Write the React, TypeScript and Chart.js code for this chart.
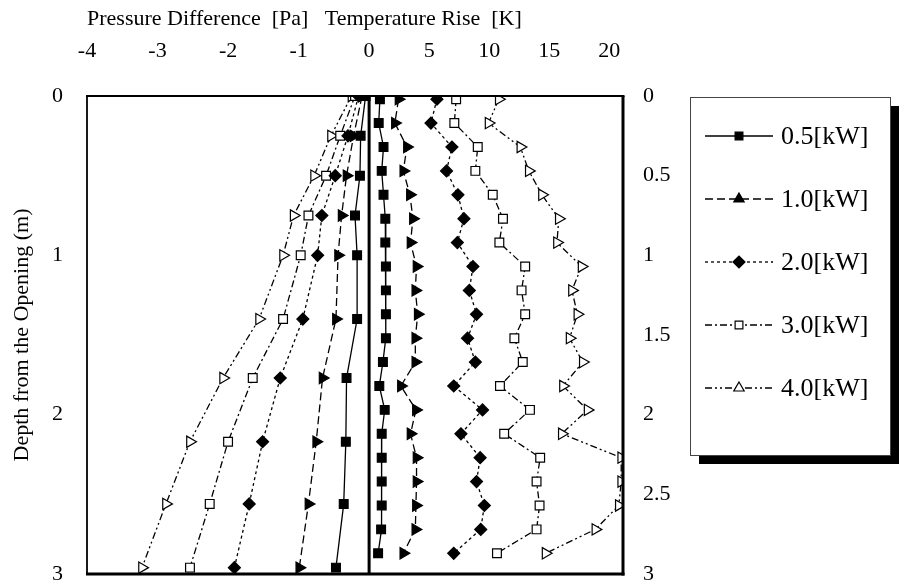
import React, { useEffect, useRef } from 'react';
import { Chart, registerables } from 'chart.js';
import { drawPoint } from 'chart.js/helpers';

Chart.register(...registerables);

// ---------- data ----------
const seriesLabels = ['0.5[kW]', '1.0[kW]', '2.0[kW]', '3.0[kW]', '4.0[kW]'];

// depths (m) of temperature measurements
const depthT = [0.02, 0.17, 0.32, 0.47, 0.62, 0.77, 0.92, 1.07, 1.22, 1.37, 1.52, 1.67, 1.82, 1.97, 2.12, 2.27, 2.42, 2.57, 2.72, 2.87];
// depths (m) of pressure measurements
const depthP = [0, 0.25, 0.5, 0.75, 1.0, 1.4, 1.77, 2.17, 2.56, 2.96];

// temperature rise [K]
const temp05 = [0.9, 0.8, 1.2, 1.05, 1.2, 1.35, 1.35, 1.4, 1.4, 1.4, 1.4, 1.15, 0.85, 1.3, 1.05, 1.05, 1.05, 1.05, 1.0, 0.75];
const temp10 = [2.45, 2.15, 3.15, 2.85, 3.4, 3.65, 3.45, 3.95, 3.85, 4.05, 3.85, 3.85, 2.65, 3.9, 3.45, 3.95, 3.95, 3.9, 3.85, 2.85];
const temp20 = [5.65, 5.15, 6.9, 6.45, 7.4, 7.9, 7.35, 8.65, 8.35, 8.95, 8.2, 8.85, 7.05, 9.45, 7.65, 9.25, 8.95, 9.6, 9.3, 7.05];
const temp30 = [7.25, 7.1, 9.05, 8.85, 10.3, 11.15, 10.85, 13.0, 12.7, 13.0, 12.1, 12.8, 10.9, 13.4, 11.25, 14.25, 13.95, 14.2, 13.95, 10.65];
const temp40 = [10.8, 9.95, 12.6, 13.3, 14.4, 15.8, 15.65, 17.7, 16.9, 17.35, 16.7, 17.8, 16.15, 18.2, 16.05, 21.0, 21.0, 20.8, 18.85, 14.7];

// pressure difference [Pa]
const pres05 = [-0.05, -0.12, -0.13, -0.2, -0.17, -0.17, -0.32, -0.33, -0.36, -0.47];
const pres10 = [-0.1, -0.22, -0.32, -0.39, -0.44, -0.47, -0.66, -0.75, -0.86, -0.99];
const pres20 = [-0.15, -0.3, -0.48, -0.67, -0.73, -0.94, -1.26, -1.51, -1.7, -1.91];
const pres30 = [-0.2, -0.41, -0.61, -0.86, -0.97, -1.22, -1.65, -2.0, -2.26, -2.54];
const pres40 = [-0.25, -0.54, -0.78, -1.07, -1.22, -1.56, -2.07, -2.54, -2.88, -3.22];

// tick labels
const pressureTicks = [-4, -3, -2, -1];
const tempTicks = [0, 5, 10, 15, 20];
const depthTicksLeft = [0, 1, 2, 3];
const depthTicksRight = [0, 0.5, 1, 1.5, 2, 2.5, 3];

// axis ranges (pressure and temperature share one zero line)
const P_MIN = -4;
const P_MAX = 3.6;
const K_PER_PA = 5.875; // temperature units per pressure unit on the shared width
const T_MIN = P_MIN * K_PER_PA;
const T_MAX = P_MAX * K_PER_PA;

const FONT = 'Liberation Serif';

// ---------- styles ----------
const styles = [
  { dash: [] as number[], point: 'rect', rot: 0, legendRot: 0, fill: '#000', radius: 6.2, legendRadius: 5.5 },
  { dash: [8, 4], point: 'triangle', rot: 90, legendRot: 0, fill: '#000', radius: 6.5, legendRadius: 6 },
  { dash: [3, 3], point: 'rectRot', rot: 0, legendRot: 0, fill: '#000', radius: 6, legendRadius: 6 },
  { dash: [7, 3, 2, 3], point: 'rect', rot: 0, legendRot: 0, fill: '#fff', radius: 6.2, legendRadius: 5.5 },
  { dash: [7, 3, 2, 3, 2, 3], point: 'triangle', rot: 90, legendRot: 0, fill: '#fff', radius: 6.5, legendRadius: 6 },
];

const tempSeries = [temp05, temp10, temp20, temp30, temp40];
const presSeries = [pres05, pres10, pres20, pres30, pres40];

function makeDataset(values: number[], depths: number[], i: number, axis: string, inLegend: boolean) {
  const s = styles[i];
  return {
    label: seriesLabels[i],
    data: values.map((v, k) => ({ x: v, y: depths[k] })),
    xAxisID: axis,
    yAxisID: 'y',
    showLine: true,
    borderColor: '#000',
    borderWidth: 1.3,
    borderDash: s.dash,
    backgroundColor: s.fill,
    pointStyle: s.point,
    pointRotation: s.rot,
    pointRadius: s.radius,
    pointBorderWidth: 1.2,
    pointBorderColor: '#000',
    pointBackgroundColor: s.fill,
    legendIndex: inLegend ? i : -1,
  } as any;
}

const LEGEND = { x: 690, y: 97, w: 200, h: 358, shadow: 9, rowY0: 136, rowStep: 63, lineX0: 705, lineX1: 773, textX: 781 };

const boxLegend = {
  id: 'boxLegend',
  afterDraw(chart: any) {
    const ctx = chart.ctx as CanvasRenderingContext2D;
    const L = LEGEND;
    ctx.save();
    ctx.fillStyle = '#000';
    ctx.fillRect(L.x + L.shadow, L.y + L.shadow, L.w, L.h);
    ctx.fillStyle = '#fff';
    ctx.fillRect(L.x, L.y, L.w, L.h);
    ctx.strokeStyle = '#444';
    ctx.lineWidth = 1;
    ctx.strokeRect(L.x + 0.5, L.y + 0.5, L.w, L.h);
    chart.data.datasets.forEach((ds: any) => {
      if (ds.legendIndex === undefined || ds.legendIndex < 0) return;
      const i = ds.legendIndex;
      const s = styles[i];
      const y = L.rowY0 + i * L.rowStep;
      ctx.strokeStyle = '#000';
      ctx.lineWidth = 1.3;
      ctx.setLineDash(s.dash);
      ctx.beginPath();
      ctx.moveTo(L.lineX0, y);
      ctx.lineTo(L.lineX1, y);
      ctx.stroke();
      ctx.setLineDash([]);
      ctx.fillStyle = s.fill;
      ctx.strokeStyle = '#000';
      ctx.lineWidth = 1.2;
      drawPoint(ctx, { pointStyle: s.point as any, rotation: s.legendRot, radius: s.legendRadius, borderWidth: 1.2 }, (L.lineX0 + L.lineX1) / 2, y);
      ctx.fillStyle = '#000';
      ctx.font = `26px "${FONT}"`;
      ctx.textBaseline = 'middle';
      ctx.textAlign = 'left';
      ctx.fillText(ds.label, L.textX, y + 1);
    });
    ctx.restore();
  },
};

const frame = {
  id: 'frame',
  afterDatasetsDraw(chart: any) {
    const { left, right, top, bottom } = chart.chartArea;
    const ctx = chart.ctx as CanvasRenderingContext2D;
    ctx.save();
    ctx.strokeStyle = '#000';
    ctx.setLineDash([]);
    const line = (x0: number, y0: number, x1: number, y1: number, w: number) => {
      ctx.lineWidth = w;
      ctx.beginPath();
      ctx.moveTo(x0, y0);
      ctx.lineTo(x1, y1);
      ctx.stroke();
    };
    line(left - 1, top, right + 1.5, top, 2.2);
    line(left, top, left, bottom, 1.8);
    line(right, top, right, bottom + 1.5, 3);
    line(left - 1, bottom, right + 1.5, bottom, 3);
    ctx.restore();
  },
};

const noVerticalPadding = (s: any) => {
  s.paddingTop = 0;
  s.paddingBottom = 0;
};

export default function App() {
  const ref = useRef<HTMLCanvasElement>(null);
  useEffect(() => {
    document.body.style.margin = '0';
    Chart.defaults.font.family = FONT;
    Chart.defaults.color = '#000';
    const datasets: any[] = [];
    tempSeries.forEach((v, i) => datasets.push(makeDataset(v, depthT, i, 'xT', true)));
    presSeries.forEach((v, i) => datasets.push(makeDataset(v, depthP, i, 'xP', false)));
    datasets.push({
      label: 'zero',
      data: [{ x: 0, y: 0 }, { x: 0, y: 3 }],
      xAxisID: 'xP',
      yAxisID: 'y',
      showLine: true,
      borderColor: '#000',
      borderWidth: 3,
      pointRadius: 0,
      legendIndex: -1,
    });
    const chart = new Chart(ref.current!, {
      type: 'scatter',
      data: { datasets },
      plugins: [frame, boxLegend],
      options: {
        responsive: false,
        maintainAspectRatio: false,
        animation: false,
        layout: { padding: { left: 0, top: 0, right: 230, bottom: 11 } },
        plugins: { legend: { display: false }, tooltip: { enabled: false } },
        scales: {
          xT: {
            type: 'linear',
            position: 'top',
            min: T_MIN,
            max: T_MAX,
            afterBuildTicks: (s: any) => {
              s.ticks = [
                ...pressureTicks.map((p) => ({ value: p * K_PER_PA })),
                ...tempTicks.map((t) => ({ value: t })),
              ];
            },
            afterFit: (s: any) => { s.height = 96; },
            ticks: {
              autoSkip: false,
              maxRotation: 0,
              font: { size: 22, lineHeight: 1 },
              color: '#000',
              padding: 26,
              callback: (v: any) => (v < 0 ? String(Math.round(v / K_PER_PA)) : String(v)),
            },
            grid: { display: false },
            border: { display: false },
            title: {
              display: true,
              text: 'Pressure Difference  [Pa]   Temperature Rise  [K]',
              align: 'start',
              font: { size: 22, lineHeight: 1.2 },
              color: '#000',
              padding: { top: 6, bottom: 0 },
            },
          },
          xP: { type: 'linear', position: 'top', display: false, min: P_MIN, max: P_MAX },
          y: {
            type: 'linear',
            position: 'left',
            reverse: true,
            min: 0,
            max: 3,
            afterBuildTicks: (s: any) => { s.ticks = depthTicksLeft.map((v) => ({ value: v })); },
            afterFit: (s: any) => { s.width = 87; noVerticalPadding(s); },
            ticks: { font: { size: 22, lineHeight: 1 }, color: '#000', padding: 16 },
            grid: { display: false },
            border: { display: false },
            title: {
              display: true,
              text: 'Depth from the Opening (m)',
              font: { size: 22, lineHeight: 1.2 },
              color: '#000',
              padding: { top: 9, bottom: 0 },
            },
          },
          y2: {
            type: 'linear',
            position: 'right',
            reverse: true,
            min: 0,
            max: 3,
            afterBuildTicks: (s: any) => { s.ticks = depthTicksRight.map((v) => ({ value: v })); },
            afterFit: (s: any) => { s.width = 50; noVerticalPadding(s); },
            ticks: { font: { size: 22, lineHeight: 1 }, color: '#000', padding: 12, callback: (v: any) => String(v) },
            grid: { display: false },
            border: { display: false },
          },
        },
      } as any,
    });
    return () => chart.destroy();
  }, []);
  return (
    <div style={{ width: 903, height: 585 }}>
      <canvas ref={ref} width={903} height={585} style={{ display: 'block', width: 903, height: 585 }} />
    </div>
  );
}
